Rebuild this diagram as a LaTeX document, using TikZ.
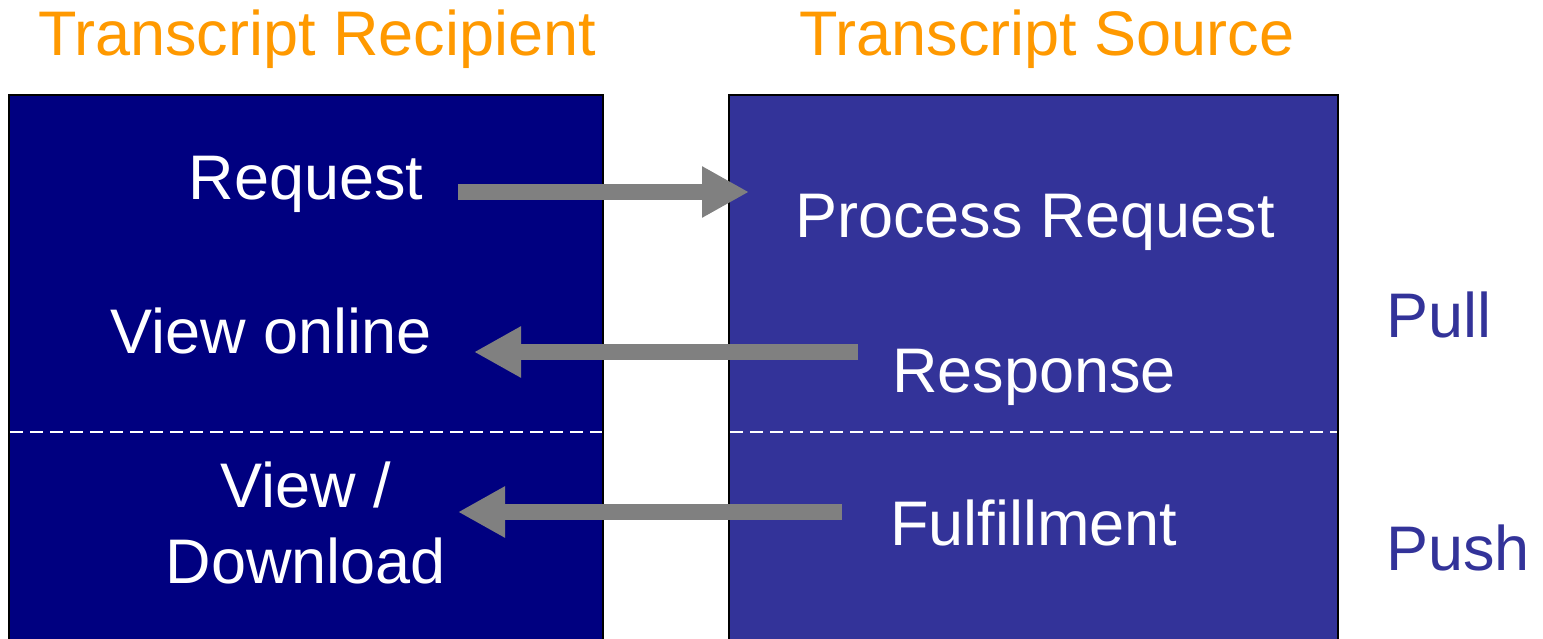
\documentclass[tikz,border=0pt]{standalone}
\usepackage{fontspec}
\setmainfont{Liberation Sans}
\usetikzlibrary{arrows.meta}
\definecolor{recipblue}{HTML}{000080}
\definecolor{sourceblue}{HTML}{333399}
\definecolor{titleorange}{HTML}{FF9900}
\definecolor{arrowgray}{HTML}{808080}
\begin{document}
\begin{tikzpicture}
        [x=1pt, y=-1pt,
        Title/.style={anchor=base, inner sep=0pt, text=titleorange, font=\fontsize{63}{76}\selectfont},
        Label/.style={anchor=base, inner sep=0pt, text=white, align=center, font=\fontsize{63}{76}\selectfont},
        Side/.style={anchor=base, inner sep=0pt, text=sourceblue, font=\fontsize{63}{76}\selectfont},
        Flow/.style={draw=arrowgray, line width=16pt, -{Triangle[length=47pt, width=48pt]}},
        Split/.style={draw=white, line width=2pt, dash pattern=on 13pt off 7pt},
        ]

        \useasboundingbox (0,0) rectangle (1543,639);
        \clip (0,0) rectangle (1543,639);

        % the two sides
        \draw[fill=recipblue, line width=2.5pt] (9,95) rectangle (603,660);
        \draw[fill=sourceblue, line width=2.5pt] (729,95) rectangle (1338,660);
        \draw[Split] (10,432) -- (602,432);
        \draw[Split] (730,432) -- (1337,432);

        \node[Title] (tag1) at (317,56){Transcript Recipient};
        \node[Title] (tag2) at (1047,56){Transcript Source};

        \node[Label] (n1) at (306,200){Request};
        \node[Label] (n2) at (271,353){View online};
        \node[Label] (n3) at (306,583){View /\\Download};
        \node[Label] (n4) at (1035,238){Process Request};
        \node[Label] (n5) at (1034,392){Response};
        \node[Label] (n6) at (1034,545){Fulfillment};

        \node[Side] (tag3) at (1439,337){Pull};
        \node[Side] (tag4) at (1458,570){Push};

        \coordinate (reqout) at (458,192);
        \coordinate (reqin) at (749,192);
        \coordinate (resout) at (858,352);
        \coordinate (resin) at (474,352);
        \coordinate (fulout) at (842,512);
        \coordinate (fulin) at (458,512);

        \draw[Flow] (reqout) -- (reqin);
        \draw[Flow] (resout) -- (resin);
        \draw[Flow] (fulout) -- (fulin);

    \end{tikzpicture}
\end{document}
